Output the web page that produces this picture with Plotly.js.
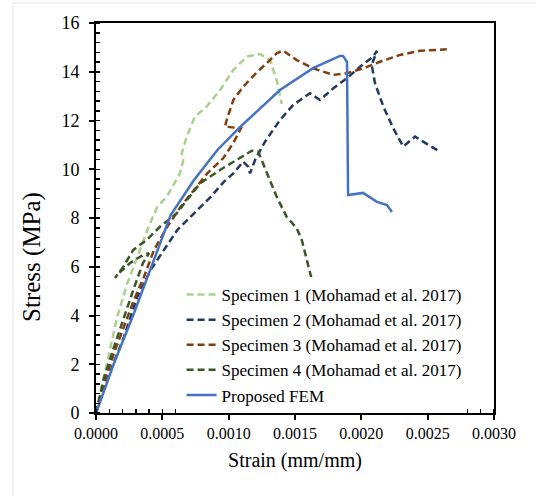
<!DOCTYPE html>
<html>
<head>
<meta charset="utf-8">
<script src="https://cdn.plot.ly/plotly-3.0.1.min.js"></script>
<style>html,body{margin:0;padding:0;background:#fff;}#chart{width:536px;height:496px;}</style>
</head>
<body>
<div id="chart"></div>
<script>
// Specimen 1 (light green)
const s1x = [0, 0.0000377, 0.000085, 0.00016, 0.000236, 0.000311, 0.000387, 0.000462, 0.000533, 0.000633, 0.000658, 0.000646, 0.000684, 0.000746, 0.000834, 0.000935, 0.001035, 0.001136, 0.001236, 0.001312, 0.001362, 0.0014];
const s1y = [0, 0.94, 2.04, 3.95, 5.32, 6.41, 7.51, 8.46, 8.87, 9.83, 10.38, 10.65, 11.34, 12.16, 12.57, 13.25, 14.07, 14.62, 14.73, 14.48, 13.66, 12.68];
// Specimen 2 (navy)
const s2x = [0, 0.000111, 0.000211, 0.000311, 0.000412, 0.000513, 0.000613, 0.000739, 0.000865, 0.000965, 0.001035, 0.00111, 0.001148, 0.001161, 0.001199, 0.001274, 0.001337, 0.001387, 0.001487, 0.001613, 0.001688, 0.001789, 0.00189, 0.00199, 0.00209, 0.002118, 0.002078, 0.002103, 0.002166, 0.002241, 0.002316, 0.002405, 0.002493, 0.00258];
const s2y = [0, 1.76, 3.13, 4.77, 5.87, 6.69, 7.51, 8.19, 8.87, 9.49, 9.83, 10.31, 10.10, 9.83, 10.38, 11.13, 11.61, 12.02, 12.64, 13.12, 12.84, 13.32, 13.73, 14.21, 14.62, 14.86, 14.28, 13.53, 12.57, 11.68, 10.93, 11.34, 11.04, 10.76];
// Specimen 3 (brown)
const s3x = [0, 0.00006, 0.000136, 0.000211, 0.000286, 0.000362, 0.000437, 0.000537, 0.000638, 0.000739, 0.000839, 0.00096, 0.001035, 0.001093, 0.000972, 0.000985, 0.001035, 0.00111, 0.001211, 0.001287, 0.001362, 0.00141, 0.001513, 0.001638, 0.001789, 0.00189, 0.002015, 0.002141, 0.002292, 0.002442, 0.002644];
const s3y = [0, 1.23, 2.46, 3.54, 4.64, 5.59, 6.69, 7.64, 8.46, 9.15, 9.83, 10.46, 11.08, 11.68, 11.75, 12.02, 12.84, 13.39, 13.97, 14.35, 14.76, 14.87, 14.48, 14.14, 13.87, 13.94, 14.14, 14.41, 14.69, 14.86, 14.92];
// Specimen 4 (dark green)
const s4x = [0, 0.00006, 0.000136, 0.000211, 0.000286, 0.000354, 0.0004, 0.000354, 0.000256, 0.000181, 0.000143, 0.000206, 0.000281, 0.000382, 0.000482, 0.000608, 0.000684, 0.000784, 0.000935, 0.001085, 0.001174, 0.001223, 0.001287, 0.001362, 0.001437, 0.001513, 0.001551, 0.001588, 0.001626, 0.001658];
const s4y = [0, 1.44, 2.71, 3.94, 5.13, 6.15, 6.56, 6.48, 6.15, 5.78, 5.54, 6.0, 6.69, 7.10, 7.64, 8.19, 8.74, 9.42, 9.97, 10.45, 10.76, 10.72, 9.83, 8.87, 8.05, 7.58, 7.10, 6.28, 5.46, 4.80];
// Proposed FEM (blue)
const fx = [0, 0.000136, 0.000286, 0.000412, 0.000563, 0.000739, 0.000915, 0.001085, 0.001387, 0.001636, 0.001839, 0.001862, 0.001892, 0.0019, 0.002013, 0.002118, 0.002194, 0.002231];
const fy = [0, 2.04, 4.09, 5.94, 8.12, 9.56, 10.79, 11.73, 13.25, 14.15, 14.65, 14.65, 14.4, 8.94, 9.03, 8.66, 8.53, 8.25];

const names = ["Specimen 1 (Mohamad et al. 2017)", "Specimen 2 (Mohamad et al. 2017)", "Specimen 3 (Mohamad et al. 2017)", "Specimen 4 (Mohamad et al. 2017)", "Proposed FEM"];
const xTickVals = [0, 0.0005, 0.001, 0.0015, 0.002, 0.0025, 0.003];
const xTickText = ["0.0000", "0.0005", "0.0010", "0.0015", "0.0020", "0.0025", "0.0030"];
const xTitle = "Strain (mm/mm)";
const yTitle = "Stress (MPa)";

const dashStyle = "7px,4px";
const traces = [
  {x: s1x, y: s1y, name: names[0], mode: "lines", line: {color: "#A9D18E", width: 2.5, dash: dashStyle}},
  {x: s2x, y: s2y, name: names[1], mode: "lines", line: {color: "#203864", width: 2.5, dash: dashStyle}},
  {x: s3x, y: s3y, name: names[2], mode: "lines", line: {color: "#843C0C", width: 2.5, dash: dashStyle}},
  {x: s4x, y: s4y, name: names[3], mode: "lines", line: {color: "#385723", width: 2.5, dash: dashStyle}},
  {x: fx, y: fy, name: names[4], mode: "lines", line: {color: "#4472C4", width: 2.5}}
];

const FAM = "'Liberation Serif', 'Times New Roman', Times";
const layout = {
  width: 536, height: 496,
  margin: {l: 96, r: 42, t: 23, b: 83},
  paper_bgcolor: "#fff", plot_bgcolor: "#fff",
  font: {family: FAM, color: "#000", size: 16},
  showlegend: true,
  legend: {x: 0.215, y: 0.0, xanchor: "left", yanchor: "bottom", bgcolor: "rgba(255,255,255,1)", borderwidth: 0,
           font: {family: FAM, color: "#000", size: 17}, tracegroupgap: 0},
  xaxis: {
    range: [0, 0.003], tickvals: xTickVals, ticktext: xTickText,
    showgrid: false, zeroline: false, showline: true, linecolor: "#000", linewidth: 2, mirror: true,
    ticks: "outside", ticklen: 5, tickwidth: 2, tickcolor: "#000",
    minor: {dtick: 0.0001, ticks: "inside", ticklen: 4, tickwidth: 1.5, tickcolor: "#000", showgrid: false},
    tickfont: {family: FAM, color: "#000", size: 16},
    title: {text: xTitle, font: {family: FAM, color: "#000", size: 20}, standoff: 12}
  },
  yaxis: {
    range: [0, 16], dtick: 2,
    showgrid: false, zeroline: false, showline: true, linecolor: "#000", linewidth: 2, mirror: true,
    ticks: "outside", ticklen: 5, tickwidth: 2, tickcolor: "#000", ticklabelstandoff: 6,
    minor: {dtick: 0.4, ticks: "inside", ticklen: 4, tickwidth: 1.5, tickcolor: "#000", showgrid: false},
    tickfont: {family: FAM, color: "#000", size: 18}
  },
  xaxis2: {overlaying: "x", range: [0, 0.003], tickvals: xTickVals, showticklabels: false, ticks: "inside", ticklen: 4, tickwidth: 2, tickcolor: "#000", showgrid: false, zeroline: false, showline: false},
  yaxis2: {overlaying: "y", range: [0, 16], dtick: 2, showticklabels: false, ticks: "inside", ticklen: 4, tickwidth: 2, tickcolor: "#000", showgrid: false, zeroline: false, showline: false},
  annotations: [
    {text: yTitle, xref: "paper", yref: "paper", x: -0.161, y: 0.40, xanchor: "center", yanchor: "middle", textangle: -90, showarrow: false,
     font: {family: FAM, color: "#000", size: 25}}
  ],
  shapes: [
    {type: "line", xref: "paper", yref: "paper", x0: -0.2085, x1: 1.11, y0: 1.0513, y1: 1.0513, line: {color: "#e6e6e6", width: 1}},
    {type: "line", xref: "paper", yref: "paper", x0: -0.2085, x1: -0.2085, y0: 1.0513, y1: -0.22, line: {color: "#e6e6e6", width: 1}}
  ]
};

Plotly.newPlot("chart", traces, layout, {displayModeBar: false, staticPlot: true});
</script>
</body>
</html>
